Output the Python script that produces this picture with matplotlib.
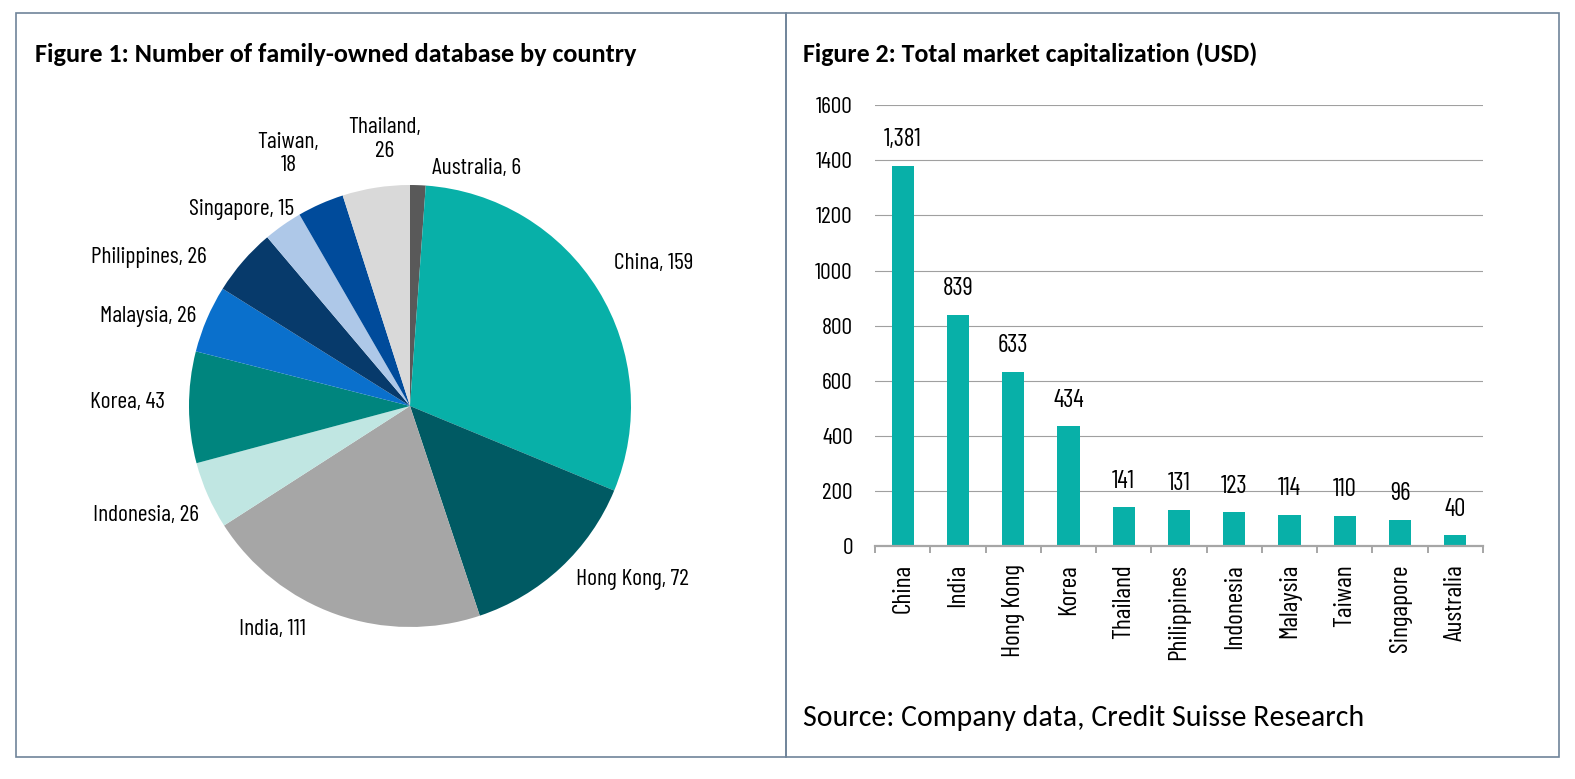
import matplotlib
matplotlib.use("Agg")
import matplotlib.pyplot as plt
from matplotlib import font_manager
from matplotlib.patches import Rectangle
import numpy as np

# ---- data ----
pie_countries = ["Australia", "China", "Hong Kong", "India", "Indonesia", "Korea",
                 "Malaysia", "Philippines", "Singapore", "Taiwan", "Thailand"]
pie_counts = [6, 159, 72, 111, 26, 43, 26, 26, 15, 18, 26]
pie_colors = ["#595959", "#08b0a8", "#005a63", "#a6a6a6", "#c0e6e2", "#00857e",
              "#0a70cc", "#073a6b", "#aec8e8", "#004b9b", "#d9d9d9"]

bar_countries = ["China", "India", "Hong Kong", "Korea", "Thailand", "Philippines",
                 "Indonesia", "Malaysia", "Taiwan", "Singapore", "Australia"]
bar_values = [1381, 839, 633, 434, 141, 131, 123, 114, 110, 96, 40]
y_ticks = [0, 200, 400, 600, 800, 1000, 1200, 1400, 1600]

title1 = "Figure 1: Number of family-owned database by country"
title2 = "Figure 2: Total market capitalization (USD)"
source = "Source: Company data, Credit Suisse Research"

# ---- fonts ----
names = {f.name for f in font_manager.fontManager.ttflist}
narrow = "Barlow Condensed" if "Barlow Condensed" in names else "DejaVu Sans"
head = "Carlito" if "Carlito" in names else "Lato"

W, H = 1575, 779
fig = plt.figure(figsize=(W / 100, H / 100), dpi=100)
renderer = fig.canvas.get_renderer()


def px_rect(x0, y0, x1, y1):
    return [x0 / W, 1 - y1 / H, (x1 - x0) / W, (y1 - y0) / H]


def fit_text(x, y, s, width_px, **kw):
    # place text and scale its size so it spans the same width as the original
    t = fig.text(x / W, 1 - y / H, s, fontsize=16, family=head, va="center", ha="left", **kw)
    w = t.get_window_extent(renderer).width
    t.set_fontsize(16 * width_px / w)
    return t


# panel borders
for x0, x1 in [(16, 786), (786, 1559)]:
    fig.patches.append(Rectangle((x0 / W, 1 - 757 / H), (x1 - x0) / W, (757 - 13) / H,
                                 transform=fig.transFigure, fill=False,
                                 edgecolor="#6f849a", linewidth=1.2))

fit_text(35, 54, title1, 602, fontweight="bold")
fit_text(803, 54, title2, 456, fontweight="bold")
fit_text(803, 718, source, 561)

# ---- pie ----
R = 221
cx, cy, half = 410, 406, 300
ax1 = fig.add_axes(px_rect(cx - half, cy - half, cx + half, cy + half))
wedges, _ = ax1.pie(pie_counts, colors=pie_colors, startangle=90, counterclock=False,
                    radius=1, wedgeprops=dict(linewidth=0))
lim = half / R
ax1.set_xlim(-lim, lim)
ax1.set_ylim(-lim, lim)
ax1.set_aspect("equal")
ax1.axis("off")

# label anchor (in pie radii) and horizontal alignment, as Excel placed them
label_pos = {
    "Australia": (0.10, 1.075, "left"),
    "China": (0.925, 0.645, "left"),
    "Hong Kong": (0.75, -0.785, "left"),
    "India": (-0.62, -1.01, "center"),
    "Indonesia": (-0.955, -0.495, "right"),
    "Korea": (-1.11, 0.015, "right"),
    "Malaysia": (-0.965, 0.405, "right"),
    "Philippines": (-0.92, 0.67, "right"),
    "Singapore": (-0.525, 0.89, "right"),
    "Taiwan": (-0.55, 1.14, "center"),
    "Thailand": (-0.115, 1.205, "center"),
}
for name, val in zip(pie_countries, pie_counts):
    x, y, ha = label_pos[name]
    if ha == "center" and name != "India":
        txt = f"{name},\n{val}"
    else:
        txt = f"{name}, {val}"
    ax1.text(x, y, txt, ha=ha, va="center", fontsize=17, family=narrow,
             linespacing=1.15)

# ---- bars ----
ax2 = fig.add_axes(px_rect(875, 105.3, 1483, 546))
x = np.arange(len(bar_countries))
ax2.bar(x, bar_values, width=0.4, color="#08b0a8", zorder=3)
for xi, v in zip(x, bar_values):
    ax2.annotate(f"{v:,}", (xi, v), xytext=(0, 14), textcoords="offset points",
                 ha="center", va="baseline", fontsize=18, family=narrow)
ax2.set_xlim(-0.5, len(bar_countries) - 0.5)
ax2.set_ylim(0, 1600)
ax2.set_yticks(y_ticks)
ax2.set_yticklabels([str(t) for t in y_ticks], family=narrow, fontsize=17)
ax2.tick_params(axis="y", length=0, pad=16)
ax2.set_xticks(x)
ax2.set_xticklabels(bar_countries, rotation=90, family=narrow, fontsize=18.5)
ax2.set_xticks(np.arange(-0.5, len(bar_countries)), minor=True)
ax2.tick_params(axis="x", which="major", length=0, pad=13)
ax2.tick_params(axis="x", which="minor", length=5, width=1.4, color="#a6a6a6",
                direction="out")
ax2.grid(axis="y", color="#a0a0a0", linewidth=0.8, zorder=0)
for s in ("top", "right", "left"):
    ax2.spines[s].set_visible(False)
ax2.spines["bottom"].set_color("#a6a6a6")
ax2.spines["bottom"].set_linewidth(1.6)
ax2.spines["bottom"].set_zorder(4)

fig.savefig("out.png", dpi=100)
